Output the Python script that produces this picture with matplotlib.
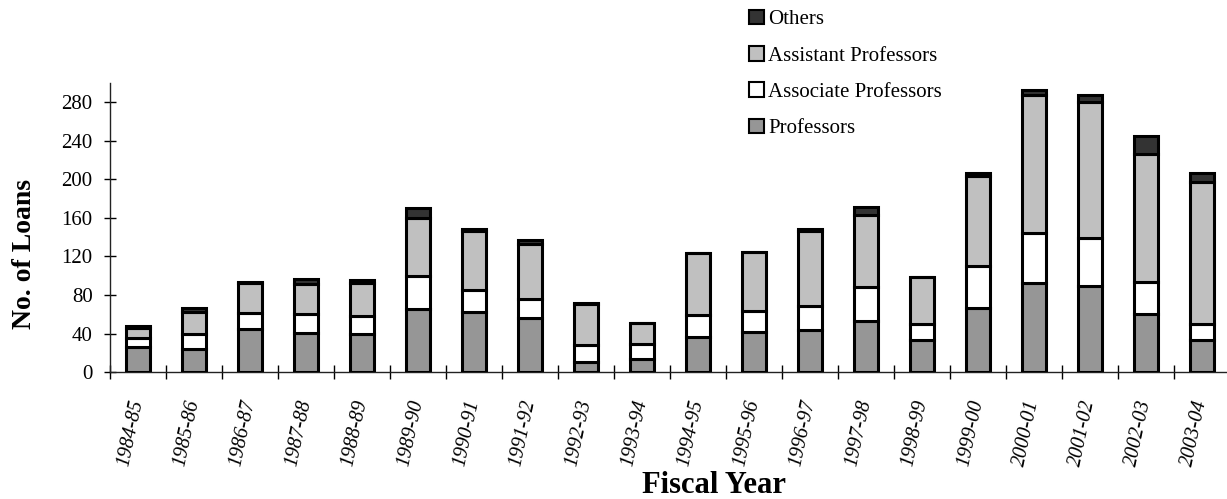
import matplotlib
matplotlib.use('Agg')
import matplotlib.pyplot as plt
from matplotlib.patches import Patch
import numpy as np

plt.rcParams['font.family'] = ['Liberation Serif', 'DejaVu Serif']

# fiscal years and loan counts by rank
years = ['1984-85', '1985-86', '1986-87', '1987-88', '1988-89', '1989-90', '1990-91',
         '1991-92', '1992-93', '1993-94', '1994-95', '1995-96', '1996-97', '1997-98',
         '1998-99', '1999-00', '2000-01', '2001-02', '2002-03', '2003-04']
professors = [26, 24, 45, 41, 40, 65, 62, 56, 10, 14, 36, 42, 44, 53, 33, 66, 92, 89, 60, 33]
associate = [9, 16, 16, 19, 18, 35, 23, 20, 18, 15, 23, 21, 25, 35, 17, 44, 52, 50, 33, 17]
assistant = [11, 22, 31, 31, 34, 60, 62, 57, 43, 22, 65, 62, 78, 75, 49, 94, 144, 142, 134, 147]
others = [2, 4, 2, 6, 4, 10, 2, 4, 1, 0, 0, 0, 2, 8, 0, 3, 5, 7, 18, 10]
yticks = [0, 40, 80, 120, 160, 200, 240, 280]

series = [('Professors', professors, '#969696'),
          ('Associate Professors', associate, '#ffffff'),
          ('Assistant Professors', assistant, '#c0c0c0'),
          ('Others', others, '#333333')]

fig = plt.figure(figsize=(12.27, 4.99), dpi=100)
ax = fig.add_axes([0.0896, 0.2545, 0.9128, 0.5787])

x = np.arange(len(years))
bottom = np.zeros(len(years))
for name, vals, col in series:
    vals = np.array(vals, dtype=float)
    ax.bar(x, vals, 0.42, bottom=bottom, color=col, edgecolor='black', linewidth=2.2, zorder=3)
    bottom += vals

ax.set_xlim(-0.5, len(years) - 0.5)
ax.set_ylim(0, 300)

for s in ['top', 'right']:
    ax.spines[s].set_visible(False)
ax.spines['left'].set_linewidth(1)
ax.spines['bottom'].set_linewidth(1)
ax.spines['left'].set_color('#222222')
ax.spines['bottom'].set_color('#222222')

ax.set_yticks(yticks)
ax.tick_params(axis='y', direction='inout', length=9, width=1, labelsize=15, pad=8)

ax.set_xticks(x)
ax.set_xticks(np.arange(len(years) + 1) - 0.5, minor=True)
ax.tick_params(axis='x', which='major', length=0, pad=20)
ax.tick_params(axis='x', which='minor', direction='inout', length=10, width=1)
ax.set_xticklabels(years, rotation=78, ha='right', va='center', rotation_mode='anchor',
                   fontsize=14.5, style='italic')

ax.set_ylabel('No. of Loans', fontsize=20, fontweight='bold')
ax.yaxis.set_label_coords(-0.065, 0.41)
fig.text(0.582, 0.028, 'Fiscal Year', fontsize=22, fontweight='bold', ha='center', va='center')

handles = [Patch(facecolor=col, edgecolor='black', linewidth=1.5, label=name)
           for name, vals, col in series[::-1]]
ax.legend(handles=handles, loc='upper left', bbox_to_anchor=(0.604, 0.997),
          bbox_transform=fig.transFigure, frameon=False, fontsize=15,
          handlelength=0.7, handleheight=0.7, handletextpad=0.2, labelspacing=0.8,
          borderaxespad=0)

plt.savefig('out.png', dpi=100)
